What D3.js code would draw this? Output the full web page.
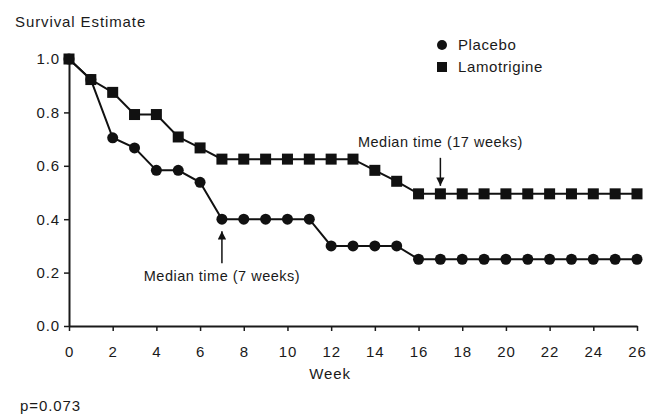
<!DOCTYPE html>
<html>
<head>
<meta charset="utf-8">
<script src="https://cdn.jsdelivr.net/npm/d3@7"></script>
<style>
  body { margin: 0; background: #fff; }
  text { font-family: "Liberation Sans", Arial, sans-serif; fill: #1a1a1a; }
</style>
</head>
<body>
<div id="chart"></div>
<script>
// data
var weeks = d3.range(0, 27);
var placebo = [1.0, 0.923, 0.705, 0.667, 0.583, 0.583, 0.538, 0.4, 0.4, 0.4, 0.4, 0.4,
  0.3, 0.3, 0.3, 0.3, 0.25, 0.25, 0.25, 0.25, 0.25, 0.25, 0.25, 0.25, 0.25, 0.25, 0.25];
var lamotrigine = [1.0, 0.923, 0.875, 0.792, 0.792, 0.708, 0.667, 0.625, 0.625, 0.625, 0.625,
  0.625, 0.625, 0.625, 0.583, 0.542, 0.495, 0.495, 0.495, 0.495, 0.495, 0.495, 0.495, 0.495,
  0.495, 0.495, 0.495];
var seriesNames = ["Placebo", "Lamotrigine"];
var xTicks = d3.range(0, 27, 2);
var yTicks = [0, 0.2, 0.4, 0.6, 0.8, 1.0];
var medians = [
  { week: 7, group: "Placebo", label: "Median time (7 weeks)" },
  { week: 17, group: "Lamotrigine", label: "Median time (17 weeks)" }
];

var svgWidth = 647;
var svgHeight = 416;
var margin = { top: 59, right: 10, bottom: 90, left: 69 };
var width = 637 - margin.left;
var height = 326 - margin.top;

var svg = d3.select("#chart")
  .append("svg")
  .attr("width", svgWidth)
  .attr("height", svgHeight);

var chartGroup = svg.append("g")
  .attr("transform", `translate(${margin.left}, ${margin.top})`);

var x = d3.scaleLinear().domain([0, 26]).range([0, width]);
var y = d3.scaleLinear().domain([0, 1]).range([height, 0]);

// axes
var xAxis = chartGroup.append("g")
  .attr("transform", `translate(0, ${height})`)
  .call(d3.axisBottom(x).tickValues(xTicks).tickSize(5).tickPadding(15).tickSizeOuter(0));

var yAxis = chartGroup.append("g")
  .call(d3.axisLeft(y).tickValues(yTicks).tickFormat(d3.format(".1f")).tickSize(5).tickPadding(4).tickSizeOuter(0));

[xAxis, yAxis].forEach(function(ax) {
  ax.select(".domain").attr("stroke", "#1a1a1a").attr("stroke-width", 2);
  ax.selectAll(".tick line").attr("stroke", "#1a1a1a").attr("stroke-width", 1.5);
  ax.selectAll(".tick text")
    .style("font-family", "'Liberation Sans', Arial, sans-serif")
    .style("font-size", "15px")
    .style("letter-spacing", "0.9px")
    .attr("fill", "#1a1a1a");
});

// axis titles
svg.append("text").attr("x", 15).attr("y", 27)
  .style("font-size", "15px").style("letter-spacing", "0.9px").text("Survival Estimate");
svg.append("text").attr("x", 330).attr("y", 379).attr("text-anchor", "middle")
  .style("font-size", "15px").style("letter-spacing", "0.9px").text("Week");
svg.append("text").attr("x", 20).attr("y", 411)
  .style("font-size", "15px").style("letter-spacing", "0.9px").text("p=0.073");

// lines and markers
var line = d3.line().x((d, i) => x(weeks[i])).y(d => y(d));

[placebo, lamotrigine].forEach(function(vals) {
  chartGroup.append("path")
    .datum(vals)
    .attr("fill", "none")
    .attr("stroke", "#111")
    .attr("stroke-width", 2)
    .attr("d", line);
});

chartGroup.selectAll(".lamo")
  .data(lamotrigine)
  .enter()
  .append("rect")
  .attr("class", "lamo")
  .attr("x", (d, i) => x(weeks[i]) - 5.5)
  .attr("y", d => y(d) - 5.5)
  .attr("width", 11)
  .attr("height", 11)
  .attr("fill", "#111");

chartGroup.selectAll(".plac")
  .data(placebo)
  .enter()
  .append("circle")
  .attr("class", "plac")
  .attr("cx", (d, i) => x(weeks[i]))
  .attr("cy", d => y(d))
  .attr("r", 5.5)
  .attr("fill", "#111");

// median annotations
svg.append("defs").append("marker")
  .attr("id", "head")
  .attr("viewBox", "0 0 10 10")
  .attr("refX", 10).attr("refY", 5)
  .attr("markerWidth", 6).attr("markerHeight", 5.5)
  .attr("markerUnits", "strokeWidth")
  .attr("orient", "auto")
  .append("path").attr("d", "M0,0 L10,5 L0,10 z").attr("fill", "#111");

// placebo median: arrow points up from below the curve
var pm = medians[0];
chartGroup.append("line")
  .attr("x1", x(pm.week)).attr("x2", x(pm.week))
  .attr("y1", y(placebo[pm.week]) + 44).attr("y2", y(placebo[pm.week]) + 12)
  .attr("stroke", "#111").attr("stroke-width", 1.5).attr("marker-end", "url(#head)");
chartGroup.append("text")
  .attr("x", x(pm.week)).attr("y", y(placebo[pm.week]) + 62)
  .attr("text-anchor", "middle").style("font-size", "14.5px").style("letter-spacing", "0.5px")
  .text(pm.label);

// lamotrigine median: arrow points down from above the curve
var lm = medians[1];
chartGroup.append("line")
  .attr("x1", x(lm.week)).attr("x2", x(lm.week))
  .attr("y1", y(lamotrigine[lm.week]) - 36).attr("y2", y(lamotrigine[lm.week]) - 8)
  .attr("stroke", "#111").attr("stroke-width", 1.5).attr("marker-end", "url(#head)");
chartGroup.append("text")
  .attr("x", x(lm.week)).attr("y", y(lamotrigine[lm.week]) - 47)
  .attr("text-anchor", "middle").style("font-size", "14.5px").style("letter-spacing", "0.5px")
  .text(lm.label);

// legend
var legend = svg.append("g").attr("transform", "translate(442, 45)");
legend.append("circle").attr("cx", 0).attr("cy", 0).attr("r", 5).attr("fill", "#111");
legend.append("rect").attr("x", -5).attr("y", 17).attr("width", 10).attr("height", 10).attr("fill", "#111");
legend.selectAll(".legtext")
  .data(seriesNames)
  .enter()
  .append("text")
  .attr("x", 16)
  .attr("y", (d, i) => i * 22 + 5)
  .style("font-size", "15px")
  .style("letter-spacing", "0.6px")
  .text(d => d);
</script>
</body>
</html>
